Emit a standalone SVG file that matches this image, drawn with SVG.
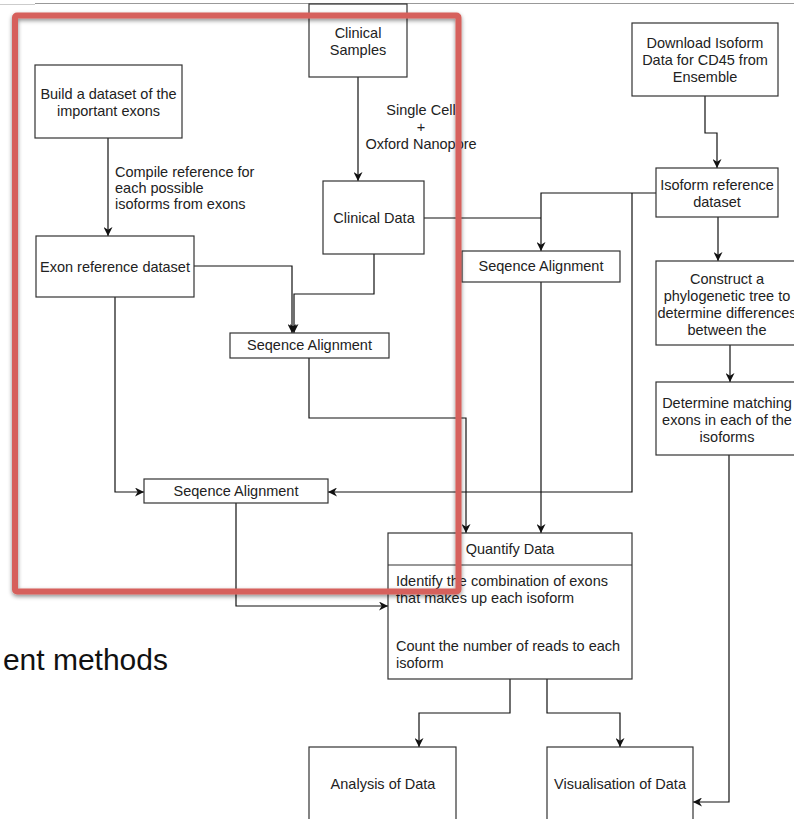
<svg xmlns="http://www.w3.org/2000/svg" width="794" height="819" viewBox="0 0 794 819">
<style>
.box{fill:#fff;stroke:#333;stroke-width:1.2}
.t{font-family:"Liberation Sans",Arial,sans-serif;font-size:14.5px;fill:#222}
.c{text-anchor:middle}
.edge{fill:none;stroke:#111;stroke-width:1.2}
</style>
<defs>
<marker id="arr" viewBox="0 0 10 10" refX="10" refY="5" markerWidth="9" markerHeight="9" markerUnits="userSpaceOnUse" orient="auto">
<path d="M0,0 L10,5 L0,10 L3,5 z" fill="#111"/>
</marker>
<filter id="sh" x="-5%" y="-5%" width="110%" height="110%">
<feDropShadow dx="0" dy="2" stdDeviation="2" flood-color="#000" flood-opacity="0.45"/>
</filter>
</defs>
<rect width="794" height="819" fill="#fff"/>
<line x1="0" y1="4.5" x2="35" y2="4.5" stroke="#ccc" stroke-width="1"/>
<line x1="35" y1="3.5" x2="794" y2="3.5" stroke="#999" stroke-width="1"/>

<g id="connectors">
<path class="edge" d="M108,138 V236" marker-end="url(#arr)"/>
<path class="edge" d="M358,77 V181" marker-end="url(#arr)"/>
<path class="edge" d="M705,96 V133 H717 V168" marker-end="url(#arr)"/>
<path class="edge" d="M656,193 H541 V251" marker-end="url(#arr)"/>
<path class="edge" d="M424,218 H541"/>
<path class="edge" d="M632,193 V492 H328" marker-end="url(#arr)"/>
<path class="edge" d="M718,217 V261" marker-end="url(#arr)"/>
<path class="edge" d="M730,345 V382" marker-end="url(#arr)"/>
<path class="edge" d="M729,455 V802 H693" marker-end="url(#arr)"/>
<path class="edge" d="M194,266 H292 V333" marker-end="url(#arr)"/>
<path class="edge" d="M374,254 V294 H294 V333" marker-end="url(#arr)"/>
<path class="edge" d="M115,297 V492 H144" marker-end="url(#arr)"/>
<path class="edge" d="M309,358 V418 H466 V533" marker-end="url(#arr)"/>
<path class="edge" d="M541,282 V533" marker-end="url(#arr)"/>
<path class="edge" d="M236,503 V606 H388" marker-end="url(#arr)"/>
<path class="edge" d="M510,679 V713 H419 V747" marker-end="url(#arr)"/>
<path class="edge" d="M547,679 V713 H620 V747" marker-end="url(#arr)"/>
<text class="t" x="115" y="176.5">Compile reference for</text>
<text class="t" x="115" y="193">each possible</text>
<text class="t" x="115" y="209">isoforms from exons</text>
<text class="t c" x="421" y="115">Single Cell</text>
<text class="t c" x="421" y="132">+</text>
<text class="t c" x="421" y="149">Oxford Nanopore</text>
</g>

<g id="clinical-samples">
<rect class="box" x="309" y="4" width="98" height="73"/>
<text class="t c" x="358" y="38">Clinical</text>
<text class="t c" x="358" y="55">Samples</text>
</g>
<g id="build-dataset">
<rect class="box" x="35" y="65" width="147" height="73"/>
<text class="t c" x="108.5" y="99">Build a dataset of the</text>
<text class="t c" x="108.5" y="116">important exons</text>
</g>
<g id="clinical-data">
<rect class="box" x="323" y="181" width="101" height="73"/>
<text class="t c" x="374" y="223">Clinical Data</text>
</g>
<g id="download-isoform">
<rect class="box" x="632" y="23" width="146" height="73"/>
<text class="t c" x="705" y="48">Download Isoform</text>
<text class="t c" x="705" y="65">Data for CD45 from</text>
<text class="t c" x="705" y="82">Ensemble</text>
</g>
<g id="isoform-reference">
<rect class="box" x="656" y="168" width="122" height="49"/>
<text class="t c" x="717" y="190">Isoform reference</text>
<text class="t c" x="717" y="207">dataset</text>
</g>
<g id="exon-reference">
<rect class="box" x="36" y="236" width="158" height="61"/>
<text class="t c" x="115" y="272">Exon reference dataset</text>
</g>
<g id="seq-align-middle">
<rect class="box" x="462" y="251" width="158" height="31"/>
<text class="t c" x="541" y="271">Seqence Alignment</text>
</g>
<g id="seq-align-upper">
<rect class="box" x="230" y="333" width="159" height="25"/>
<text class="t c" x="309.5" y="350">Seqence Alignment</text>
</g>
<g id="seq-align-lower">
<rect class="box" x="144" y="479" width="184" height="24"/>
<text class="t c" x="236" y="496">Seqence Alignment</text>
</g>
<g id="construct-tree">
<rect class="box" x="656" y="261" width="144" height="84"/>
<text class="t c" x="727" y="284">Construct a</text>
<text class="t c" x="727" y="301">phylogenetic tree to</text>
<text class="t c" x="727" y="318">determine differences</text>
<text class="t c" x="727" y="335">between the</text>
</g>
<g id="determine-matching">
<rect class="box" x="656" y="382" width="144" height="73"/>
<text class="t c" x="727" y="408">Determine matching</text>
<text class="t c" x="727" y="425">exons in each of the</text>
<text class="t c" x="727" y="442">isoforms</text>
</g>
<g id="quantify-data">
<rect class="box" x="388" y="533" width="244" height="146"/>
<line x1="388" y1="565" x2="632" y2="565" stroke="#333" stroke-width="1.2"/>
<text class="t c" x="510" y="554">Quantify Data</text>
<text class="t" x="396" y="586">Identify the combination of exons</text>
<text class="t" x="396" y="603">that makes up each isoform</text>
<text class="t" x="396" y="651">Count the number of reads to each</text>
<text class="t" x="396" y="668">isoform</text>
</g>
<g id="analysis">
<rect class="box" x="309" y="747" width="147" height="90"/>
<text class="t c" x="383" y="789">Analysis of Data</text>
</g>
<g id="visualisation">
<rect class="box" x="547" y="747" width="146" height="90"/>
<text class="t c" x="620" y="789">Visualisation of Data</text>
</g>

<text x="168" y="670" text-anchor="end" font-family="Liberation Sans, Arial, sans-serif" font-size="30" fill="#111">ent methods</text>

<g id="highlight">
<rect x="15" y="15.5" width="443.5" height="576" rx="2" fill="none" stroke="#d6605b" stroke-width="6" filter="url(#sh)"/>
</g>
</svg>
